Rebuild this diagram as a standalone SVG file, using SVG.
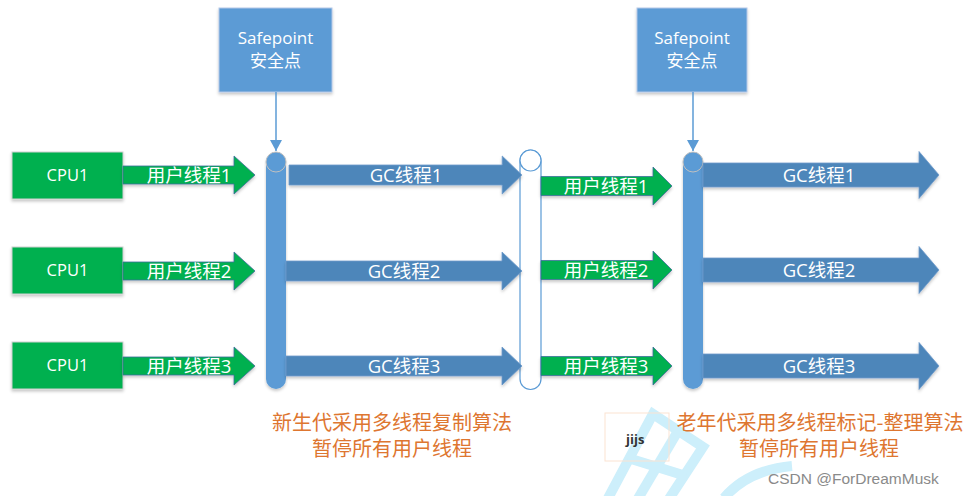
<svg xmlns="http://www.w3.org/2000/svg" width="969" height="496" viewBox="0 0 969 496">
  <defs>
    <filter id="shadow" x="-10%" y="-20%" width="120%" height="150%">
      <feDropShadow dx="0" dy="2" stdDeviation="1.5" flood-color="#000" flood-opacity="0.22"/>
    </filter>
    <marker id="tri" viewBox="0 0 11 12" refX="11" refY="6" markerWidth="11" markerHeight="12" markerUnits="userSpaceOnUse" orient="auto">
      <path d="M0,0 L11,6 L0,12 Z" fill="#5B9BD5"/>
    </marker>
    <!-- block arrow shapes, drawn at origin (tail at x=0, centre line at y=0) -->
    <path id="greenArrow" d="M0,-9 H111 V-19 L132,0 L111,19 V9 H0 Z"/>
    <path id="greenArrowMid" d="M0,-9.5 H112 V-19 L131,0 L112,19 V9.5 H0 Z"/>
    <path id="gcArrowLeft" d="M0,-10 H216 V-19 L236,0 L216,19 V10 H0 Z"/>
    <path id="gcArrowRight" d="M0,-12 H216 V-23.5 L236,0 L216,23.5 V12 H0 Z"/>
  </defs>
  <style>
    .cpu { fill: #00B050; stroke: #D0D0D0; stroke-width: 1; filter: url(#shadow); }
    .cpu-t { font-family: "Open Sans", "Noto Sans CJK SC", sans-serif; font-size: 16.5px; fill: #FFFFFF; text-anchor: middle; }
    .ua { fill: #00B050; stroke: #3F6F9A; stroke-width: 0.8; filter: url(#shadow); }
    .gc { fill: #4E86BA; stroke: #6E9ACB; stroke-width: 0.8; filter: url(#shadow); }
    .lbl { font-family: "Open Sans", "Noto Sans CJK SC", sans-serif; font-size: 18.5px; fill: #FFFFFF; text-anchor: middle; }
    .sp { fill: #5B9BD5; stroke: #B4C7E7; stroke-width: 1; filter: url(#shadow); }
    .sp-t { font-family: "Open Sans", "Noto Sans CJK SC", sans-serif; font-size: 17px; fill: #FFFFFF; text-anchor: middle; }
    .bar { fill: #5B9BD5; filter: url(#shadow); }
    .cap { fill: #5B9BD5; stroke: #C0C0C0; stroke-width: 1; }
    .hollow { fill: #FFFFFF; stroke: #5B9BD5; stroke-width: 1.2; }
    .note { font-family: "Noto Sans CJK SC", sans-serif; font-size: 20px; fill: #DE7630; text-anchor: middle; }
    .link { stroke: #5B9BD5; stroke-width: 1.5; fill: none; }
    .wm { stroke: #CDEFFB; stroke-width: 10; fill: none; stroke-linecap: butt; stroke-linejoin: miter; }
  </style>

  <rect width="969" height="496" fill="#FFFFFF"/>

  <!-- faint watermark strokes -->
  <g id="watermark">
    <path class="wm" d="M606,502 L653,414 L703,447 L667,502"/>
    <path class="wm" d="M678,431 L636,502"/>
    <path class="wm" d="M628,458 L686,476"/>
    <path class="wm" d="M724,498 Q748,470 792,466"/>
  </g>

  <!-- CPU boxes -->
  <g id="cpu-1"><rect class="cpu" x="12" y="152" width="111" height="47"/><text class="cpu-t" x="67.5" y="181">CPU1</text></g>
  <g id="cpu-2"><rect class="cpu" x="12" y="247" width="111" height="47"/><text class="cpu-t" x="67.5" y="276">CPU1</text></g>
  <g id="cpu-3"><rect class="cpu" x="12" y="342" width="111" height="47"/><text class="cpu-t" x="67.5" y="371">CPU1</text></g>

  <!-- user thread arrows before the first safepoint -->
  <g id="user-threads-a">
    <use href="#greenArrow" class="ua" x="123" y="175"/>
    <text class="lbl" x="189" y="182">用户线程1</text>
    <use href="#greenArrow" class="ua" x="123" y="271"/>
    <text class="lbl" x="189" y="278">用户线程2</text>
    <use href="#greenArrow" class="ua" x="123" y="366"/>
    <text class="lbl" x="189" y="373">用户线程3</text>
  </g>

  <!-- safepoint boxes -->
  <g id="safepoint-1">
    <rect class="sp" x="219" y="8" width="113" height="84"/>
    <text class="sp-t" x="275.5" y="44">Safepoint</text>
    <text class="sp-t" x="275.5" y="67">安全点</text>
  </g>
  <g id="safepoint-2">
    <rect class="sp" x="637" y="8" width="110" height="84"/>
    <text class="sp-t" x="692" y="44">Safepoint</text>
    <text class="sp-t" x="692" y="67">安全点</text>
  </g>

  <!-- stop-the-world bars -->
  <g id="pause-young">
    <path class="bar" d="M266,162 A10,10 0 0 1 286,162 V379 A10,10 0 0 1 266,379 Z"/>
    <circle class="cap" cx="276" cy="162" r="10"/>
  </g>
  <g id="resume-bar">
    <path class="hollow" d="M520,160.5 A10.5,10.5 0 0 1 541,160.5 V379 A10.5,10.5 0 0 1 520,379 Z"/>
    <circle class="hollow" cx="530.5" cy="160.5" r="10.5"/>
  </g>
  <g id="pause-old">
    <path class="bar" d="M683,162 A10,10 0 0 1 703,162 V379 A10,10 0 0 1 683,379 Z"/>
    <circle class="cap" cx="693" cy="162" r="10"/>
  </g>

  <!-- young generation GC threads -->
  <g id="gc-threads-young">
    <use href="#gcArrowLeft" class="gc" x="289" y="175" transform="translate(289,0) scale(0.987,1) translate(-289,0)"/>
    <text class="lbl" x="406" y="182">GC线程1</text>
    <use href="#gcArrowLeft" class="gc" x="286" y="271"/>
    <text class="lbl" x="404" y="278">GC线程2</text>
    <use href="#gcArrowLeft" class="gc" x="286" y="366"/>
    <text class="lbl" x="404" y="373">GC线程3</text>
  </g>

  <!-- user thread arrows after the young collection -->
  <g id="user-threads-b">
    <use href="#greenArrowMid" class="ua" x="541" y="186"/>
    <text class="lbl" x="606" y="193">用户线程1</text>
    <use href="#greenArrowMid" class="ua" x="541" y="270"/>
    <text class="lbl" x="606" y="277">用户线程2</text>
    <use href="#greenArrowMid" class="ua" x="541" y="366"/>
    <text class="lbl" x="606" y="373">用户线程3</text>
  </g>

  <!-- old generation GC threads -->
  <g id="gc-threads-old">
    <use href="#gcArrowRight" class="gc" x="703" y="175"/>
    <text class="lbl" x="819" y="182">GC线程1</text>
    <use href="#gcArrowRight" class="gc" x="703" y="270"/>
    <text class="lbl" x="819" y="277">GC线程2</text>
    <use href="#gcArrowRight" class="gc" x="703" y="366"/>
    <text class="lbl" x="819" y="373">GC线程3</text>
  </g>

  <!-- safepoint pointers -->
  <g id="connectors">
    <line class="link" x1="276" y1="92" x2="276" y2="151" marker-end="url(#tri)"/>
    <line class="link" x1="693" y1="92" x2="693" y2="151" marker-end="url(#tri)"/>
  </g>

  <!-- captions -->
  <g id="caption-young">
    <text class="note" x="392" y="430">新生代采用多线程复制算法</text>
    <text class="note" x="392" y="456">暂停所有用户线程</text>
  </g>
  <g id="caption-old">
    <text class="note" x="820" y="430">老年代采用多线程标记-整理算法</text>
    <text class="note" x="819" y="456">暂停所有用户线程</text>
  </g>

  <g id="tag">
    <rect x="605" y="413" width="64" height="48" fill="none" stroke="#FBE3D2" stroke-width="1"/>
    <text x="626" y="444" font-family="'Open Sans', sans-serif" font-size="13" font-weight="bold" fill="#333333">jijs</text>
  </g>

  <text x="768" y="484" font-family="'Liberation Sans', Arial, sans-serif" font-size="15.5" fill="#8A8A8A">CSDN @ForDreamMusk</text>
</svg>
